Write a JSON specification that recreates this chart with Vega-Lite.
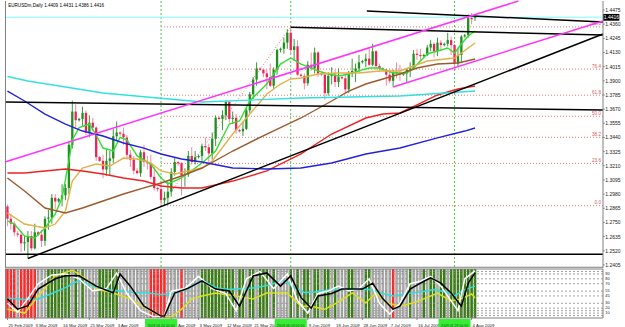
{
"$schema":"https://vega.github.io/schema/vega-lite/v6.json",
"width":625,"height":327,"padding":0,"autosize":{"type":"fit","contains":"padding"},"background":"white",
"config":{"view":{"stroke":null},"axis":{"disable":true},"text":{"font":"Liberation Sans"}},
"resolve":{"scale":{"y":"independent","color":"independent"}},
"datasets":{
"bars":[
{"i":0,"o":1.288,"h":1.2895,"l":1.272,"c":1.278,"s":"r"},
{"i":1,"o":1.278,"h":1.282,"l":1.269,"c":1.274,"s":"r"},
{"i":2,"o":1.274,"h":1.276,"l":1.264,"c":1.267,"s":"r"},
{"i":3,"o":1.266,"h":1.268,"l":1.263,"c":1.265,"s":"n"},
{"i":4,"o":1.265,"h":1.268,"l":1.251,"c":1.258,"s":"r"},
{"i":5,"o":1.258,"h":1.264,"l":1.252,"c":1.259,"s":"r"},
{"i":6,"o":1.259,"h":1.268,"l":1.2457,"c":1.264,"s":"r"},
{"i":7,"o":1.264,"h":1.268,"l":1.252,"c":1.254,"s":"r"},
{"i":8,"o":1.254,"h":1.274,"l":1.253,"c":1.267,"s":"r"},
{"i":9,"o":1.267,"h":1.268,"l":1.264,"c":1.265,"s":"n"},
{"i":10,"o":1.265,"h":1.269,"l":1.255,"c":1.26,"s":"n"},
{"i":11,"o":1.26,"h":1.28,"l":1.256,"c":1.278,"s":"n"},
{"i":12,"o":1.278,"h":1.285,"l":1.269,"c":1.279,"s":"g"},
{"i":13,"o":1.279,"h":1.298,"l":1.274,"c":1.295,"s":"g"},
{"i":14,"o":1.295,"h":1.298,"l":1.286,"c":1.292,"s":"g"},
{"i":15,"o":1.292,"h":1.295,"l":1.291,"c":1.294,"s":"g"},
{"i":16,"o":1.294,"h":1.306,"l":1.288,"c":1.297,"s":"g"},
{"i":17,"o":1.297,"h":1.306,"l":1.293,"c":1.303,"s":"g"},
{"i":18,"o":1.303,"h":1.34,"l":1.298,"c":1.338,"s":"g"},
{"i":19,"o":1.338,"h":1.3739,"l":1.335,"c":1.365,"s":"n"},
{"i":20,"o":1.365,"h":1.371,"l":1.352,"c":1.358,"s":"g"},
{"i":21,"o":1.358,"h":1.36,"l":1.357,"c":1.359,"s":"n"},
{"i":22,"o":1.359,"h":1.369,"l":1.353,"c":1.364,"s":"g"},
{"i":23,"o":1.364,"h":1.366,"l":1.346,"c":1.348,"s":"n"},
{"i":24,"o":1.348,"h":1.362,"l":1.344,"c":1.356,"s":"n"},
{"i":25,"o":1.356,"h":1.36,"l":1.349,"c":1.352,"s":"n"},
{"i":26,"o":1.352,"h":1.353,"l":1.325,"c":1.328,"s":"n"},
{"i":27,"o":1.328,"h":1.329,"l":1.324,"c":1.325,"s":"g"},
{"i":28,"o":1.325,"h":1.33,"l":1.311,"c":1.318,"s":"g"},
{"i":29,"o":1.318,"h":1.334,"l":1.313,"c":1.325,"s":"g"},
{"i":30,"o":1.325,"h":1.333,"l":1.313,"c":1.327,"s":"g"},
{"i":31,"o":1.327,"h":1.351,"l":1.323,"c":1.345,"s":"g"},
{"i":32,"o":1.345,"h":1.357,"l":1.341,"c":1.348,"s":"g"},
{"i":33,"o":1.348,"h":1.349,"l":1.345,"c":1.347,"s":"n"},
{"i":34,"o":1.347,"h":1.352,"l":1.338,"c":1.344,"s":"n"},
{"i":35,"o":1.344,"h":1.346,"l":1.326,"c":1.33,"s":"n"},
{"i":36,"o":1.33,"h":1.334,"l":1.32,"c":1.326,"s":"n"},
{"i":37,"o":1.326,"h":1.329,"l":1.314,"c":1.317,"s":"n"},
{"i":38,"o":1.317,"h":1.319,"l":1.314,"c":1.315,"s":"n"},
{"i":39,"o":1.315,"h":1.334,"l":1.312,"c":1.332,"s":"n"},
{"i":40,"o":1.332,"h":1.338,"l":1.32,"c":1.324,"s":"n"},
{"i":41,"o":1.324,"h":1.329,"l":1.318,"c":1.323,"s":"n"},
{"i":42,"o":1.323,"h":1.33,"l":1.31,"c":1.312,"s":"r"},
{"i":43,"o":1.312,"h":1.32,"l":1.301,"c":1.303,"s":"r"},
{"i":44,"o":1.303,"h":1.304,"l":1.3,"c":1.302,"s":"r"},
{"i":45,"o":1.302,"h":1.308,"l":1.2886,"c":1.293,"s":"r"},
{"i":46,"o":1.293,"h":1.3,"l":1.289,"c":1.295,"s":"r"},
{"i":47,"o":1.295,"h":1.308,"l":1.29,"c":1.3,"s":"n"},
{"i":48,"o":1.3,"h":1.319,"l":1.296,"c":1.316,"s":"n"},
{"i":49,"o":1.316,"h":1.328,"l":1.313,"c":1.324,"s":"n"},
{"i":50,"o":1.324,"h":1.325,"l":1.321,"c":1.323,"s":"n"},
{"i":51,"o":1.323,"h":1.324,"l":1.297,"c":1.313,"s":"r"},
{"i":52,"o":1.313,"h":1.319,"l":1.304,"c":1.314,"s":"n"},
{"i":53,"o":1.314,"h":1.333,"l":1.312,"c":1.329,"s":"n"},
{"i":54,"o":1.329,"h":1.336,"l":1.322,"c":1.324,"s":"n"},
{"i":55,"o":1.324,"h":1.333,"l":1.322,"c":1.328,"s":"n"},
{"i":56,"o":1.328,"h":1.33,"l":1.327,"c":1.329,"s":"n"},
{"i":57,"o":1.329,"h":1.339,"l":1.325,"c":1.337,"s":"g"},
{"i":58,"o":1.337,"h":1.344,"l":1.333,"c":1.336,"s":"g"},
{"i":59,"o":1.336,"h":1.339,"l":1.324,"c":1.331,"s":"g"},
{"i":60,"o":1.331,"h":1.348,"l":1.326,"c":1.343,"s":"g"},
{"i":61,"o":1.343,"h":1.362,"l":1.337,"c":1.36,"s":"g"},
{"i":62,"o":1.36,"h":1.361,"l":1.358,"c":1.359,"s":"g"},
{"i":63,"o":1.359,"h":1.366,"l":1.35,"c":1.362,"s":"g"},
{"i":64,"o":1.362,"h":1.374,"l":1.358,"c":1.373,"s":"g"},
{"i":65,"o":1.373,"h":1.374,"l":1.356,"c":1.359,"s":"g"},
{"i":66,"o":1.359,"h":1.365,"l":1.355,"c":1.36,"s":"g"},
{"i":67,"o":1.36,"h":1.363,"l":1.347,"c":1.35,"s":"n"},
{"i":68,"o":1.35,"h":1.351,"l":1.348,"c":1.349,"s":"g"},
{"i":69,"o":1.349,"h":1.357,"l":1.345,"c":1.351,"s":"g"},
{"i":70,"o":1.351,"h":1.368,"l":1.35,"c":1.366,"s":"n"},
{"i":71,"o":1.366,"h":1.381,"l":1.364,"c":1.379,"s":"g"},
{"i":72,"o":1.379,"h":1.393,"l":1.375,"c":1.391,"s":"g"},
{"i":73,"o":1.391,"h":1.405,"l":1.386,"c":1.4,"s":"n"},
{"i":74,"o":1.4,"h":1.401,"l":1.398,"c":1.399,"s":"g"},
{"i":75,"o":1.399,"h":1.4,"l":1.393,"c":1.396,"s":"g"},
{"i":76,"o":1.396,"h":1.399,"l":1.383,"c":1.393,"s":"g"},
{"i":77,"o":1.393,"h":1.404,"l":1.385,"c":1.386,"s":"n"},
{"i":78,"o":1.386,"h":1.401,"l":1.383,"c":1.399,"s":"g"},
{"i":79,"o":1.399,"h":1.416,"l":1.395,"c":1.415,"s":"n"},
{"i":80,"o":1.415,"h":1.417,"l":1.413,"c":1.416,"s":"n"},
{"i":81,"o":1.416,"h":1.425,"l":1.412,"c":1.421,"s":"n"},
{"i":82,"o":1.421,"h":1.432,"l":1.416,"c":1.429,"s":"n"},
{"i":83,"o":1.429,"h":1.4338,"l":1.412,"c":1.415,"s":"g"},
{"i":84,"o":1.415,"h":1.424,"l":1.406,"c":1.418,"s":"n"},
{"i":85,"o":1.418,"h":1.423,"l":1.394,"c":1.395,"s":"g"},
{"i":86,"o":1.395,"h":1.396,"l":1.393,"c":1.394,"s":"n"},
{"i":87,"o":1.394,"h":1.396,"l":1.383,"c":1.388,"s":"g"},
{"i":88,"o":1.388,"h":1.406,"l":1.386,"c":1.403,"s":"g"},
{"i":89,"o":1.403,"h":1.413,"l":1.398,"c":1.4,"s":"n"},
{"i":90,"o":1.4,"h":1.417,"l":1.396,"c":1.413,"s":"g"},
{"i":91,"o":1.413,"h":1.414,"l":1.393,"c":1.396,"s":"g"},
{"i":92,"o":1.396,"h":1.397,"l":1.394,"c":1.395,"s":"n"},
{"i":93,"o":1.395,"h":1.396,"l":1.3747,"c":1.38,"s":"g"},
{"i":94,"o":1.38,"h":1.397,"l":1.378,"c":1.394,"s":"g"},
{"i":95,"o":1.394,"h":1.401,"l":1.387,"c":1.395,"s":"n"},
{"i":96,"o":1.395,"h":1.399,"l":1.385,"c":1.389,"s":"g"},
{"i":97,"o":1.389,"h":1.4,"l":1.385,"c":1.393,"s":"n"},
{"i":98,"o":1.393,"h":1.394,"l":1.391,"c":1.392,"s":"n"},
{"i":99,"o":1.392,"h":1.395,"l":1.38,"c":1.383,"s":"n"},
{"i":100,"o":1.383,"h":1.398,"l":1.38,"c":1.396,"s":"g"},
{"i":101,"o":1.396,"h":1.408,"l":1.393,"c":1.398,"s":"g"},
{"i":102,"o":1.398,"h":1.404,"l":1.389,"c":1.4,"s":"n"},
{"i":103,"o":1.4,"h":1.411,"l":1.397,"c":1.405,"s":"n"},
{"i":104,"o":1.405,"h":1.407,"l":1.404,"c":1.406,"s":"n"},
{"i":105,"o":1.406,"h":1.412,"l":1.401,"c":1.408,"s":"g"},
{"i":106,"o":1.408,"h":1.416,"l":1.402,"c":1.403,"s":"g"},
{"i":107,"o":1.403,"h":1.42,"l":1.402,"c":1.414,"s":"n"},
{"i":108,"o":1.414,"h":1.415,"l":1.399,"c":1.402,"s":"n"},
{"i":109,"o":1.402,"h":1.404,"l":1.397,"c":1.4,"s":"n"},
{"i":110,"o":1.4,"h":1.401,"l":1.398,"c":1.399,"s":"n"},
{"i":111,"o":1.399,"h":1.4,"l":1.386,"c":1.395,"s":"n"},
{"i":112,"o":1.395,"h":1.4,"l":1.388,"c":1.39,"s":"n"},
{"i":113,"o":1.39,"h":1.399,"l":1.385,"c":1.397,"s":"r"},
{"i":114,"o":1.397,"h":1.405,"l":1.392,"c":1.396,"s":"n"},
{"i":115,"o":1.396,"h":1.403,"l":1.39,"c":1.395,"s":"n"},
{"i":116,"o":1.395,"h":1.397,"l":1.394,"c":1.396,"s":"n"},
{"i":117,"o":1.396,"h":1.4,"l":1.389,"c":1.399,"s":"n"},
{"i":118,"o":1.399,"h":1.405,"l":1.393,"c":1.4,"s":"g"},
{"i":119,"o":1.4,"h":1.415,"l":1.399,"c":1.412,"s":"n"},
{"i":120,"o":1.412,"h":1.416,"l":1.407,"c":1.411,"s":"n"},
{"i":121,"o":1.411,"h":1.416,"l":1.406,"c":1.41,"s":"n"},
{"i":122,"o":1.41,"h":1.412,"l":1.409,"c":1.411,"s":"g"},
{"i":123,"o":1.411,"h":1.419,"l":1.41,"c":1.417,"s":"n"},
{"i":124,"o":1.417,"h":1.423,"l":1.414,"c":1.42,"s":"g"},
{"i":125,"o":1.42,"h":1.421,"l":1.409,"c":1.414,"s":"g"},
{"i":126,"o":1.414,"h":1.425,"l":1.41,"c":1.421,"s":"n"},
{"i":127,"o":1.421,"h":1.423,"l":1.414,"c":1.419,"s":"g"},
{"i":128,"o":1.419,"h":1.421,"l":1.418,"c":1.42,"s":"g"},
{"i":129,"o":1.42,"h":1.429,"l":1.418,"c":1.423,"s":"n"},
{"i":130,"o":1.423,"h":1.426,"l":1.411,"c":1.419,"s":"g"},
{"i":131,"o":1.419,"h":1.42,"l":1.4,"c":1.404,"s":"g"},
{"i":132,"o":1.404,"h":1.417,"l":1.401,"c":1.411,"s":"g"},
{"i":133,"o":1.411,"h":1.427,"l":1.405,"c":1.426,"s":"g"},
{"i":134,"o":1.426,"h":1.428,"l":1.425,"c":1.427,"s":"g"},
{"i":135,"o":1.427,"h":1.444,"l":1.425,"c":1.441,"s":"g"},
{"i":136,"o":1.441,"h":1.445,"l":1.436,"c":1.44,"s":"g"},
{"i":137,"o":1.4409,"h":1.4431,"l":1.4386,"c":1.4416,"s":"g"}
],
"ma":[
{"k":"gr","i":0,"p":1.2762},{"k":"gr","i":2,"p":1.2737},{"k":"gr","i":5,"p":1.264},{"k":"gr","i":8,"p":1.2624},{"k":"gr","i":11,"p":1.2705},{"k":"gr","i":14,"p":1.2818},{"k":"gr","i":16,"p":1.295},{"k":"gr","i":18,"p":1.325},{"k":"gr","i":19,"p":1.342},{"k":"gr","i":21,"p":1.352},{"k":"gr","i":24,"p":1.3549},{"k":"gr","i":26,"p":1.346},{"k":"gr","i":28,"p":1.3354},{"k":"gr","i":31,"p":1.333},{"k":"gr","i":33,"p":1.344},{"k":"gr","i":35,"p":1.342},{"k":"gr","i":38,"p":1.329},{"k":"gr","i":42,"p":1.3224},{"k":"gr","i":45,"p":1.3111},{"k":"gr","i":47,"p":1.3062},{"k":"gr","i":51,"p":1.3111},{"k":"gr","i":55,"p":1.3192},{"k":"gr","i":57,"p":1.3233},{"k":"gr","i":61,"p":1.333},{"k":"gr","i":65,"p":1.3549},{"k":"gr","i":68,"p":1.3574},{"k":"gr","i":71,"p":1.3736},{"k":"gr","i":76,"p":1.3874},{"k":"gr","i":80,"p":1.4036},{"k":"gr","i":83,"p":1.4085},{"k":"gr","i":86,"p":1.4036},{"k":"gr","i":89,"p":1.4004},{"k":"gr","i":91,"p":1.398},{"k":"gr","i":94,"p":1.3955},{"k":"gr","i":97,"p":1.3939},{"k":"gr","i":100,"p":1.3955},{"k":"gr","i":103,"p":1.398},{"k":"gr","i":106,"p":1.4004},{"k":"gr","i":109,"p":1.4004},{"k":"gr","i":113,"p":1.3963},{"k":"gr","i":117,"p":1.3963},{"k":"gr","i":119,"p":1.4004},{"k":"gr","i":123,"p":1.4118},{"k":"gr","i":126,"p":1.4142},{"k":"gr","i":129,"p":1.4166},{"k":"gr","i":131,"p":1.4126},{"k":"gr","i":133,"p":1.4199},{"k":"gr","i":135,"p":1.4264},{"k":"gr","i":137,"p":1.4304},
{"k":"or","i":0,"p":1.2827},{"k":"or","i":5,"p":1.2737},{"k":"or","i":11,"p":1.2705},{"k":"or","i":14,"p":1.2737},{"k":"or","i":17,"p":1.2843},{"k":"or","i":19,"p":1.3086},{"k":"or","i":22,"p":1.3192},{"k":"or","i":26,"p":1.3224},{"k":"or","i":30,"p":1.3208},{"k":"or","i":34,"p":1.3273},{"k":"or","i":38,"p":1.3265},{"k":"or","i":42,"p":1.3233},{"k":"or","i":45,"p":1.3168},{"k":"or","i":49,"p":1.3143},{"k":"or","i":53,"p":1.3168},{"k":"or","i":57,"p":1.3192},{"k":"or","i":60,"p":1.3249},{"k":"or","i":66,"p":1.3468},{"k":"or","i":71,"p":1.363},{"k":"or","i":76,"p":1.3793},{"k":"or","i":80,"p":1.3874},{"k":"or","i":83,"p":1.3915},{"k":"or","i":86,"p":1.3923},{"k":"or","i":91,"p":1.3955},{"k":"or","i":97,"p":1.3963},{"k":"or","i":103,"p":1.3963},{"k":"or","i":109,"p":1.398},{"k":"or","i":115,"p":1.398},{"k":"or","i":123,"p":1.4061},{"k":"or","i":131,"p":1.4085},{"k":"or","i":137,"p":1.4207},
{"k":"br","i":0,"p":1.3111},{"k":"br","i":5,"p":1.3005},{"k":"br","i":11,"p":1.2867},{"k":"br","i":17,"p":1.2827},{"k":"br","i":22,"p":1.2867},{"k":"br","i":28,"p":1.2924},{"k":"br","i":34,"p":1.2981},{"k":"br","i":40,"p":1.303},{"k":"br","i":45,"p":1.307},{"k":"br","i":51,"p":1.3127},{"k":"br","i":57,"p":1.3192},{"k":"br","i":66,"p":1.333},{"k":"br","i":76,"p":1.3468},{"k":"br","i":86,"p":1.3598},{"k":"br","i":95,"p":1.3736},{"k":"br","i":100,"p":1.3817},{"k":"br","i":105,"p":1.3874},{"k":"br","i":110,"p":1.3915},{"k":"br","i":115,"p":1.3955},{"k":"br","i":120,"p":1.4004},{"k":"br","i":126,"p":1.4036},{"k":"br","i":132,"p":1.4045},{"k":"br","i":137,"p":1.4077},
{"k":"rd","i":0,"p":1.3151},{"k":"rd","i":5,"p":1.3151},{"k":"rd","i":11,"p":1.3168},{"k":"rd","i":17,"p":1.3184},{"k":"rd","i":22,"p":1.3168},{"k":"rd","i":28,"p":1.3143},{"k":"rd","i":34,"p":1.3111},{"k":"rd","i":40,"p":1.3086},{"k":"rd","i":45,"p":1.3046},{"k":"rd","i":51,"p":1.303},{"k":"rd","i":57,"p":1.303},{"k":"rd","i":66,"p":1.3086},{"k":"rd","i":76,"p":1.3168},{"k":"rd","i":86,"p":1.3306},{"k":"rd","i":95,"p":1.3468},{"k":"rd","i":105,"p":1.3598},{"k":"rd","i":110,"p":1.363},{"k":"rd","i":115,"p":1.3639},{"k":"rd","i":120,"p":1.3704},{"k":"rd","i":126,"p":1.3785},{"k":"rd","i":132,"p":1.3833},{"k":"rd","i":137,"p":1.3858},
{"k":"bl","i":0,"p":1.3817},{"k":"bl","i":5,"p":1.3736},{"k":"bl","i":11,"p":1.363},{"k":"bl","i":17,"p":1.3549},{"k":"bl","i":22,"p":1.3492},{"k":"bl","i":28,"p":1.3452},{"k":"bl","i":34,"p":1.3395},{"k":"bl","i":40,"p":1.3354},{"k":"bl","i":45,"p":1.3306},{"k":"bl","i":51,"p":1.3265},{"k":"bl","i":57,"p":1.3241},{"k":"bl","i":66,"p":1.3192},{"k":"bl","i":76,"p":1.3184},{"k":"bl","i":86,"p":1.3192},{"k":"bl","i":95,"p":1.3233},{"k":"bl","i":105,"p":1.3306},{"k":"bl","i":115,"p":1.3354},{"k":"bl","i":126,"p":1.3436},{"k":"bl","i":134,"p":1.3492},{"k":"bl","i":137,"p":1.3517},
{"k":"cy","i":0,"p":1.3935},{"k":"cy","i":6,"p":1.3898},{"k":"cy","i":28,"p":1.3801},{"k":"cy","i":57,"p":1.3728},{"k":"cy","i":86,"p":1.376},{"k":"cy","i":115,"p":1.3777},{"k":"cy","i":137,"p":1.3817}
],
"tl":[
{"k":"bk","a":105.3,"pa":1.4467,"b":174.5,"pb":1.4377},
{"k":"bk","a":83,"pa":1.4335,"b":174.5,"pb":1.4272},
{"k":"bk","a":6,"pa":1.2457,"b":174.5,"pb":1.428},
{"k":"bk","a":-0.72,"pa":1.3728,"b":174.5,"pb":1.3663},
{"k":"bk","a":-0.72,"pa":1.2492,"b":174.5,"pb":1.2492},
{"k":"mg","a":-0.72,"pa":1.3241,"b":149.7,"pb":1.4548},
{"k":"mg","a":113,"pa":1.385,"b":174.5,"pb":1.4386}
],
"fib":[
{"lv":"0.0","p":1.2886},{"lv":"23.6","p":1.3229},{"lv":"38.2","p":1.3441},{"lv":"50.0","p":1.3612},{"lv":"61.8","p":1.3783},{"lv":"76.4","p":1.3995},{"lv":"100.0","p":1.4338}
],
"fibd":[{"a":45,"pa":1.2886,"b":83,"pb":1.4338}],
"vl":[{"i":45,"t":"2009.04.20 00:00"},{"i":83,"t":"2009.06.03 00:00"},{"i":131,"t":"2009.07.29 00:00"}],
"hdr":[{"t":"EURUSDm,Daily  1.4409 1.4431 1.4386 1.4416"}],
"bid":[{"p":1.4416,"t":"1.4416"}],
"ylab":[{"p":1.2405,"t":"1.2405"},{"p":1.252,"t":"1.2520"},{"p":1.2635,"t":"1.2635"},{"p":1.275,"t":"1.2750"},{"p":1.2865,"t":"1.2865"},{"p":1.298,"t":"1.2980"},{"p":1.3095,"t":"1.3095"},{"p":1.321,"t":"1.3210"},{"p":1.3325,"t":"1.3325"},{"p":1.344,"t":"1.3440"},{"p":1.3555,"t":"1.3555"},{"p":1.367,"t":"1.3670"},{"p":1.3785,"t":"1.3785"},{"p":1.39,"t":"1.3900"},{"p":1.4015,"t":"1.4015"},{"p":1.413,"t":"1.4130"},{"p":1.4245,"t":"1.4245"},{"p":1.436,"t":"1.4360"},{"p":1.4475,"t":"1.4475"}],
"lev":[{"v":95},{"v":90},{"v":80},{"v":70},{"v":55},{"v":45},{"v":30},{"v":20},{"v":15},{"v":10},{"v":5}],
"olab":[{"v":90,"t":"90"},{"v":80,"t":"80"},{"v":70,"t":"70"},{"v":55,"t":"55"},{"v":45,"t":"45"},{"v":30,"t":"30"},{"v":20,"t":"20"},{"v":10,"t":"10"}],
"dlab":[{"i":0,"t":"25 Feb 2009"},{"i":8,"t":"6 Mar 2009"},{"i":16,"t":"16 Mar 2009"},{"i":24,"t":"25 Mar 2009"},{"i":32,"t":"3 Apr 2009"},{"i":48,"t":"23 Apr 2009"},{"i":56,"t":"3 May 2009"},{"i":64,"t":"12 May 2009"},{"i":72,"t":"21 May 2009"},{"i":88,"t":"9 Jun 2009"},{"i":96,"t":"18 Jun 2009"},{"i":104,"t":"28 Jun 2009"},{"i":112,"t":"7 Jul 2009"},{"i":120,"t":"16 Jul 2009"},{"i":136,"t":"4 Aug 2009"}],
"osc":[
{"k":"ye","i":0,"v":18},{"k":"ye","i":5,"v":10},{"k":"ye","i":9,"v":45},{"k":"ye","i":14,"v":86},{"k":"ye","i":19,"v":98},{"k":"ye","i":23,"v":80},{"k":"ye","i":26,"v":59},{"k":"ye","i":31,"v":51},{"k":"ye","i":36,"v":39},{"k":"ye","i":41,"v":18},{"k":"ye","i":45,"v":4},{"k":"ye","i":48,"v":2},{"k":"ye","i":51,"v":18},{"k":"ye","i":54,"v":39},{"k":"ye","i":57,"v":45},{"k":"ye","i":61,"v":51},{"k":"ye","i":67,"v":45},{"k":"ye","i":72,"v":39},{"k":"ye","i":76,"v":51},{"k":"ye","i":82,"v":51},{"k":"ye","i":86,"v":24},{"k":"ye","i":89,"v":24},{"k":"ye","i":93,"v":18},{"k":"ye","i":96,"v":29},{"k":"ye","i":101,"v":51},{"k":"ye","i":105,"v":31},{"k":"ye","i":108,"v":51},{"k":"ye","i":111,"v":31},{"k":"ye","i":115,"v":24},{"k":"ye","i":119,"v":31},{"k":"ye","i":122,"v":39},{"k":"ye","i":126,"v":51},{"k":"ye","i":130,"v":35},{"k":"ye","i":133,"v":39},{"k":"ye","i":136,"v":49},{"k":"ye","i":137,"v":41},
{"k":"cy","i":0,"v":41},{"k":"cy","i":5,"v":38},{"k":"cy","i":9,"v":39},{"k":"cy","i":13,"v":50},{"k":"cy","i":17,"v":62},{"k":"cy","i":21,"v":77},{"k":"cy","i":25,"v":65},{"k":"cy","i":29,"v":58},{"k":"cy","i":33,"v":55},{"k":"cy","i":37,"v":52},{"k":"cy","i":41,"v":51},{"k":"cy","i":45,"v":48},{"k":"cy","i":49,"v":50},{"k":"cy","i":53,"v":60},{"k":"cy","i":57,"v":78},{"k":"cy","i":61,"v":62},{"k":"cy","i":65,"v":58},{"k":"cy","i":69,"v":60},{"k":"cy","i":73,"v":62},{"k":"cy","i":77,"v":68},{"k":"cy","i":81,"v":78},{"k":"cy","i":84,"v":62},{"k":"cy","i":87,"v":52},{"k":"cy","i":90,"v":53},{"k":"cy","i":94,"v":57},{"k":"cy","i":98,"v":58},{"k":"cy","i":102,"v":59},{"k":"cy","i":106,"v":58},{"k":"cy","i":110,"v":50},{"k":"cy","i":113,"v":45},{"k":"cy","i":117,"v":50},{"k":"cy","i":121,"v":53},{"k":"cy","i":125,"v":58},{"k":"cy","i":129,"v":52},{"k":"cy","i":131,"v":45},{"k":"cy","i":134,"v":58},{"k":"cy","i":137,"v":65},
{"k":"wh","i":0,"v":30},{"k":"wh","i":3,"v":12},{"k":"wh","i":6,"v":40},{"k":"wh","i":9,"v":70},{"k":"wh","i":13,"v":88},{"k":"wh","i":17,"v":90},{"k":"wh","i":21,"v":80},{"k":"wh","i":25,"v":55},{"k":"wh","i":29,"v":60},{"k":"wh","i":32,"v":92},{"k":"wh","i":35,"v":50},{"k":"wh","i":39,"v":15},{"k":"wh","i":43,"v":2},{"k":"wh","i":46,"v":5},{"k":"wh","i":48,"v":55},{"k":"wh","i":52,"v":60},{"k":"wh","i":56,"v":85},{"k":"wh","i":60,"v":60},{"k":"wh","i":64,"v":50},{"k":"wh","i":67,"v":15},{"k":"wh","i":70,"v":80},{"k":"wh","i":74,"v":95},{"k":"wh","i":78,"v":60},{"k":"wh","i":82,"v":90},{"k":"wh","i":85,"v":35},{"k":"wh","i":88,"v":10},{"k":"wh","i":91,"v":50},{"k":"wh","i":94,"v":55},{"k":"wh","i":97,"v":65},{"k":"wh","i":100,"v":55},{"k":"wh","i":103,"v":60},{"k":"wh","i":106,"v":80},{"k":"wh","i":109,"v":30},{"k":"wh","i":112,"v":8},{"k":"wh","i":115,"v":30},{"k":"wh","i":118,"v":70},{"k":"wh","i":121,"v":75},{"k":"wh","i":124,"v":85},{"k":"wh","i":127,"v":65},{"k":"wh","i":130,"v":35},{"k":"wh","i":132,"v":15},{"k":"wh","i":134,"v":80},{"k":"wh","i":137,"v":96},
{"k":"bk","i":0,"v":39},{"k":"bk","i":3,"v":18},{"k":"bk","i":6,"v":25},{"k":"bk","i":9,"v":59},{"k":"bk","i":14,"v":80},{"k":"bk","i":17,"v":86},{"k":"bk","i":21,"v":86},{"k":"bk","i":26,"v":65},{"k":"bk","i":31,"v":51},{"k":"bk","i":33,"v":90},{"k":"bk","i":36,"v":65},{"k":"bk","i":40,"v":24},{"k":"bk","i":45,"v":4},{"k":"bk","i":46,"v":4},{"k":"bk","i":49,"v":51},{"k":"bk","i":53,"v":61},{"k":"bk","i":57,"v":76},{"k":"bk","i":61,"v":59},{"k":"bk","i":65,"v":55},{"k":"bk","i":68,"v":24},{"k":"bk","i":72,"v":86},{"k":"bk","i":76,"v":92},{"k":"bk","i":80,"v":65},{"k":"bk","i":83,"v":86},{"k":"bk","i":86,"v":42},{"k":"bk","i":89,"v":20},{"k":"bk","i":91,"v":45},{"k":"bk","i":95,"v":50},{"k":"bk","i":98,"v":59},{"k":"bk","i":101,"v":59},{"k":"bk","i":104,"v":59},{"k":"bk","i":107,"v":71},{"k":"bk","i":110,"v":39},{"k":"bk","i":113,"v":18},{"k":"bk","i":115,"v":24},{"k":"bk","i":118,"v":59},{"k":"bk","i":121,"v":71},{"k":"bk","i":124,"v":82},{"k":"bk","i":127,"v":71},{"k":"bk","i":130,"v":51},{"k":"bk","i":133,"v":24},{"k":"bk","i":135,"v":71},{"k":"bk","i":137,"v":92}
]
},
"layer":[
{
"resolve":{"scale":{"color":"independent"}},
"layer":[
{"data":{"name":"fib"},"mark":{"type":"rule","color":"#e07878","strokeDash":[1,2],"strokeWidth":1},
 "encoding":{"x":{"datum":45,"type":"quantitative","scale":{"domain":[-0.72,174.5],"range":[0,608],"nice":false,"zero":false},"axis":null},"x2":{"datum":174.5},
 "y":{"field":"p","type":"quantitative","scale":{"domain":[1.238,1.4548],"range":[267,0],"nice":false,"zero":false},"axis":null}}},
{"data":{"name":"fibd"},"mark":{"type":"rule","color":"#e07878","strokeDash":[1,2],"strokeWidth":1},
 "encoding":{"x":{"field":"a","type":"quantitative","axis":null},"x2":{"field":"b"},"y":{"field":"pa","type":"quantitative","axis":null},"y2":{"field":"pb"}}},
{"data":{"name":"fib"},"mark":{"type":"text","color":"#d85a5a","fontSize":4.6,"align":"right","baseline":"bottom","dy":-0.5},
 "encoding":{"x":{"datum":173.9,"type":"quantitative","axis":null},"y":{"field":"p","type":"quantitative","axis":null},"text":{"field":"lv"}}},
{"data":{"name":"vl"},"mark":{"type":"rule","color":"#44cc44","strokeDash":[2,2],"strokeWidth":1},
 "encoding":{"x":{"field":"i","type":"quantitative","axis":null},"y":{"datum":1.4548,"type":"quantitative","axis":null},"y2":{"datum":1.238}}},
{"data":{"name":"bid"},"mark":{"type":"rule","color":"#7fffff","strokeWidth":1.2},
 "encoding":{"x":{"datum":-0.72,"type":"quantitative","axis":null},"x2":{"datum":174.5},"y":{"field":"p","type":"quantitative","axis":null}}},
{"data":{"name":"bars"},"mark":{"type":"rule","strokeWidth":1},
 "encoding":{"x":{"field":"i","type":"quantitative","axis":null},"y":{"field":"l","type":"quantitative","axis":null},"y2":{"field":"h"},
 "color":{"condition":{"test":"datum.c >= datum.o","value":"#3a9a3a"},"value":"#f28aa2"}}},
{"data":{"name":"bars"},"mark":{"type":"bar","size":2.3},
 "encoding":{"x":{"field":"i","type":"quantitative","axis":null},"y":{"field":"o","type":"quantitative","axis":null},"y2":{"field":"c"},
 "color":{"condition":{"test":"datum.c >= datum.o","value":"#1f8f1f"},"value":"#ee2255"}}},
{"data":{"name":"ma"},"mark":{"type":"line","strokeWidth":1.4},
 "encoding":{"x":{"field":"i","type":"quantitative","axis":null},"y":{"field":"p","type":"quantitative","axis":null},
 "color":{"field":"k","type":"nominal","legend":null,"scale":{"domain":["cy","bl","rd","br","or","gr"],"range":["#33e0e0","#2222dd","#ee2222","#9c5a2c","#e3b04a","#33dd33"]}}}},
{"data":{"name":"tl"},"mark":{"type":"rule","strokeWidth":1.5},
 "encoding":{"x":{"field":"a","type":"quantitative","axis":null},"x2":{"field":"b"},"y":{"field":"pa","type":"quantitative","axis":null},"y2":{"field":"pb"},
 "color":{"field":"k","type":"nominal","legend":null,"scale":{"domain":["bk","mg"],"range":["#000000","#ff33ff"]}}}},
{"data":{"name":"hdr"},"mark":{"type":"text","fontSize":4.6,"color":"#000000","align":"left","baseline":"middle"},
 "encoding":{"x":{"datum":0.2,"type":"quantitative","axis":null},"y":{"datum":1.4507,"type":"quantitative","axis":null},"text":{"field":"t"}}},
{"data":{"name":"bid"},"mark":{"type":"rule","color":"#808080","strokeWidth":1},
 "encoding":{"x":{"datum":174.5,"type":"quantitative","axis":null},"y":{"datum":1.4548,"type":"quantitative","axis":null},"y2":{"datum":1.238}}},
{"data":{"name":"bid"},"mark":{"type":"rule","color":"#808080","strokeWidth":1},
 "encoding":{"x":{"datum":-0.58,"type":"quantitative","axis":null},"y":{"datum":1.4548,"type":"quantitative","axis":null},"y2":{"datum":1.238}}},
{"data":{"name":"bid"},"mark":{"type":"rule","color":"#808080","strokeWidth":1},
 "encoding":{"x":{"datum":-0.72,"type":"quantitative","axis":null},"x2":{"datum":174.5},"y":{"datum":1.2386,"type":"quantitative","axis":null}}},
{"data":{"name":"ylab"},"mark":{"type":"rule","color":"#808080","strokeWidth":1},
 "encoding":{"x":{"datum":174.5,"type":"quantitative","axis":null},"x2":{"datum":175},"y":{"field":"p","type":"quantitative","axis":null}}},
{"data":{"name":"ylab"},"mark":{"type":"text","fontSize":5,"color":"#202020","align":"left","baseline":"middle"},
 "encoding":{"x":{"datum":175.15,"type":"quantitative","axis":null},"y":{"field":"p","type":"quantitative","axis":null},"text":{"field":"t"}}},
{"data":{"name":"bid"},"mark":{"type":"bar","size":16,"color":"#000000"},
 "encoding":{"x":{"datum":176.95,"type":"quantitative","axis":null},"y":{"datum":1.4443,"type":"quantitative","axis":null},"y2":{"datum":1.4388}}},
{"data":{"name":"bid"},"mark":{"type":"text","fontSize":5,"color":"#ffffff","align":"center","baseline":"middle"},
 "encoding":{"x":{"datum":176.95,"type":"quantitative","axis":null},"y":{"field":"p","type":"quantitative","axis":null},"text":{"field":"t"}}}
]
},
{
"resolve":{"scale":{"color":"independent"}},
"layer":[
{"data":{"name":"bars"},"mark":{"type":"bar","size":2.6},
 "encoding":{"x":{"field":"i","type":"quantitative","axis":null},
 "y":{"datum":0,"type":"quantitative","scale":{"domain":[0,100],"range":[317,268],"nice":false,"zero":false},"axis":null},
 "y2":{"datum":100},
 "color":{"field":"s","type":"nominal","legend":null,"scale":{"domain":["g","n","r"],"range":["#3a7d14","#a9a9a9","#ff2828"]}}}},
{"data":{"name":"lev"},"mark":{"type":"rule","color":"#8a8a8a","strokeDash":[2,2],"strokeWidth":0.8},
 "encoding":{"x":{"datum":-0.72,"type":"quantitative","axis":null},"x2":{"datum":174.5},"y":{"field":"v","type":"quantitative","axis":null}}},
{"data":{"name":"osc"},"mark":{"type":"line","strokeWidth":1.5},
 "encoding":{"x":{"field":"i","type":"quantitative","axis":null},"y":{"field":"v","type":"quantitative","axis":null},
 "color":{"field":"k","type":"nominal","legend":null,"scale":{"domain":["ye","cy","wh","bk"],"range":["#dddd22","#33dddd","#ffffff","#000000"]}},
 "order":{"field":"i"}}},
{"data":{"name":"bid"},"mark":{"type":"rule","color":"#808080","strokeWidth":1},
 "encoding":{"x":{"datum":-0.72,"type":"quantitative","axis":null},"x2":{"datum":174.5},"y":{"datum":100,"type":"quantitative","axis":null}}},
{"data":{"name":"bid"},"mark":{"type":"rule","color":"#808080","strokeWidth":1},
 "encoding":{"x":{"datum":-0.72,"type":"quantitative","axis":null},"x2":{"datum":174.5},"y":{"datum":0,"type":"quantitative","axis":null}}},
{"data":{"name":"bid"},"mark":{"type":"rule","color":"#808080","strokeWidth":1},
 "encoding":{"x":{"datum":174.5,"type":"quantitative","axis":null},"y":{"datum":100,"type":"quantitative","axis":null},"y2":{"datum":0}}},
{"data":{"name":"bid"},"mark":{"type":"rule","color":"#808080","strokeWidth":1},
 "encoding":{"x":{"datum":-0.58,"type":"quantitative","axis":null},"y":{"datum":100,"type":"quantitative","axis":null},"y2":{"datum":0}}},
{"data":{"name":"olab"},"mark":{"type":"text","fontSize":3.9,"color":"#202020","align":"left","baseline":"middle"},
 "encoding":{"x":{"datum":175.15,"type":"quantitative","axis":null},"y":{"field":"v","type":"quantitative","axis":null},"text":{"field":"t"}}},
{"data":{"name":"dlab"},"mark":{"type":"rule","color":"#808080","strokeWidth":1},
 "encoding":{"x":{"field":"i","type":"quantitative","axis":null},"y":{"datum":0,"type":"quantitative","axis":null},"y2":{"datum":-4}}},
{"data":{"name":"dlab"},"mark":{"type":"text","fontSize":4.3,"color":"#202020","align":"left","baseline":"alphabetic","dx":1},
 "encoding":{"x":{"field":"i","type":"quantitative","axis":null},"y":{"datum":-18,"type":"quantitative","axis":null},"text":{"field":"t"}}},
{"data":{"name":"vl"},"mark":{"type":"bar","size":32,"color":"#33ee33"},
 "encoding":{"x":{"field":"i","type":"quantitative","axis":null},"y":{"datum":-2,"type":"quantitative","axis":null},"y2":{"datum":-20.4}}},
{"data":{"name":"vl"},"mark":{"type":"text","fontSize":3.5,"color":"#205020","align":"center","baseline":"alphabetic"},
 "encoding":{"x":{"field":"i","type":"quantitative","axis":null},"y":{"datum":-17.5,"type":"quantitative","axis":null},"text":{"field":"t"}}}
]
}
]
}
